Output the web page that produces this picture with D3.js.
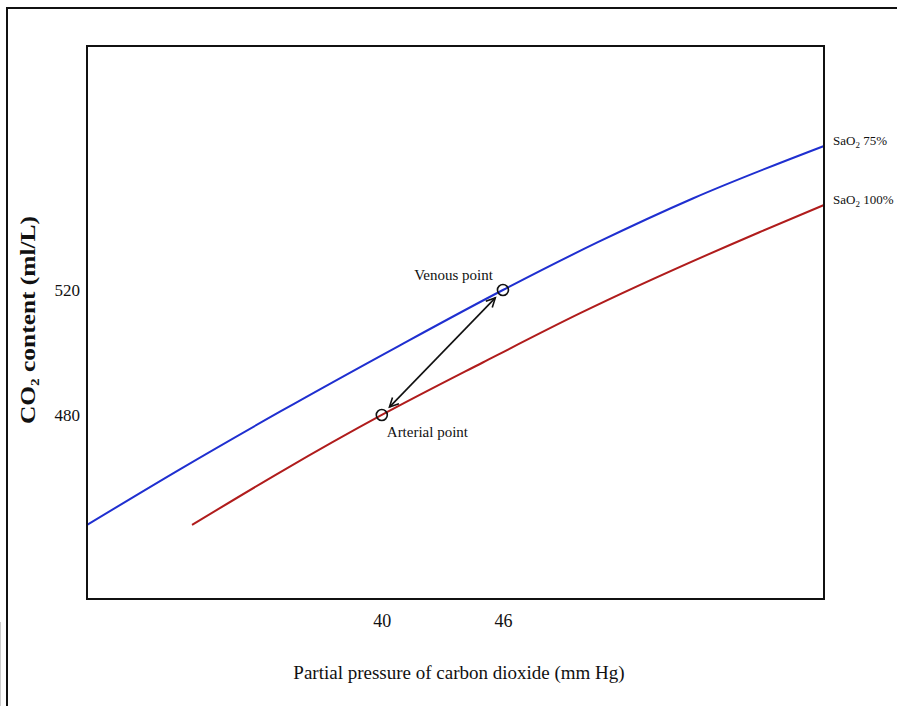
<!DOCTYPE html>
<html>
<head>
<meta charset="utf-8">
<script src="https://cdn.jsdelivr.net/npm/d3@7"></script>
<style>
  body { margin: 0; background: #fff; }
  text { font-family: "Liberation Serif", "DejaVu Serif", serif; fill: #111; }
</style>
</head>
<body>
<svg id="chart" width="897" height="706"></svg>
<script>
"use strict";

// === Data ===
let pco2Ticks = [40, 46];
let contentTicks = [480, 520];

// SaO2 75% curve
let sat75X = [25.4, 30.0, 35.0, 40.9, 46, 50.7, 55.4, 61.9];
let sat75Y = [444.8, 462.6, 481.2, 502.3, 520, 535.3, 549.3, 566.1];

// SaO2 100% curve
let sat100X = [30.6, 35.0, 40, 45.0, 49.8, 58.7, 61.9];
let sat100Y = [444.8, 461.8, 480, 496.8, 512.5, 538.5, 547.2];

let pointNames = ["Venous point", "Arterial point"];
let pointX = [46, 40];
let pointY = [520, 480];

// === Layout ===
let svg = d3.select("#chart");
let plotLeft = 87, plotRight = 824, plotTop = 46, plotBottom = 599;

let x = d3.scaleLinear().domain([25.4, 61.9]).range([plotLeft, plotRight]);
let y = d3.scaleLinear().domain([421.1, 598.1]).range([plotBottom, plotTop]);

// outer frame of the figure
svg.append("rect")
  .attr("x", 7).attr("y", 8)
  .attr("width", 900).attr("height", 710)
  .attr("fill", "none")
  .attr("stroke", "#111")
  .attr("stroke-width", 2);

svg.append("line")
  .attr("x1", 0.5).attr("x2", 0.5)
  .attr("y1", 622).attr("y2", 706)
  .attr("stroke", "#ccc");

// === Curves ===
let line = d3.line()
  .x(d => x(d[0]))
  .y(d => y(d[1]))
  .curve(d3.curveMonotoneX);

let series = [
  { xs: sat75X, ys: sat75Y, color: "#1f2fd0" },
  { xs: sat100X, ys: sat100Y, color: "#b01c1c" }
];

series.forEach(s => {
  svg.append("path")
    .datum(s.xs.map((v, i) => [v, s.ys[i]]))
    .attr("d", line)
    .attr("fill", "none")
    .attr("stroke", s.color)
    .attr("stroke-width", 2);
});

// plot box
svg.append("rect")
  .attr("x", plotLeft).attr("y", plotTop)
  .attr("width", plotRight - plotLeft).attr("height", plotBottom - plotTop)
  .attr("fill", "none")
  .attr("stroke", "#111")
  .attr("stroke-width", 2);

// === Axes (labels only, no tick marks) ===
let xAxis = svg.append("g")
  .attr("transform", `translate(0,${plotBottom})`)
  .call(d3.axisBottom(x).tickValues(pco2Ticks).tickSize(0).tickPadding(15));
xAxis.select(".domain").remove();
xAxis.selectAll("text")
  .style("font-family", "Liberation Serif, serif")
  .style("font-size", "18px")
  .attr("fill", "#111");

let yAxis = svg.append("g")
  .attr("transform", `translate(${plotLeft},0)`)
  .call(d3.axisLeft(y).tickValues(contentTicks).tickSize(0).tickPadding(7));
yAxis.select(".domain").remove();
yAxis.selectAll("text")
  .style("font-family", "Liberation Serif, serif")
  .style("font-size", "17px")
  .attr("fill", "#111");

// axis titles
svg.append("text")
  .attr("x", 459)
  .attr("y", 679)
  .attr("text-anchor", "middle")
  .style("font-size", "19px")
  .text("Partial pressure of carbon dioxide (mm Hg)");

let yTitle = svg.append("text")
  .attr("transform", "translate(35,320) rotate(-90)")
  .attr("text-anchor", "middle")
  .attr("textLength", 208)
  .attr("lengthAdjust", "spacingAndGlyphs")
  .style("font-size", "20px")
  .style("font-weight", "bold");
yTitle.append("tspan").text("CO");
yTitle.append("tspan").attr("dy", 4).style("font-size", "12px").text("2");
yTitle.append("tspan").attr("dy", -4).text(" content (ml/L)");

// curve labels at the right edge
let curveLabels = [
  { pct: "75%", yv: sat75Y[sat75Y.length - 1] },
  { pct: "100%", yv: sat100Y[sat100Y.length - 1] }
];
curveLabels.forEach(c => {
  let t = svg.append("text")
    .attr("x", plotRight + 9)
    .attr("y", y(c.yv) - 1)
    .style("font-size", "13px");
  t.append("tspan").text("SaO");
  t.append("tspan").attr("dy", 3).style("font-size", "9px").text("2");
  t.append("tspan").attr("dy", -3).text(" " + c.pct);
});

// === Double-headed arrow between the points ===
let defs = svg.append("defs");
defs.append("marker")
  .attr("id", "head")
  .attr("viewBox", "-10 -6 12 12")
  .attr("refX", 0).attr("refY", 0)
  .attr("markerWidth", 12).attr("markerHeight", 12)
  .attr("markerUnits", "userSpaceOnUse")
  .attr("orient", "auto-start-reverse")
  .append("path")
  .attr("d", "M-9,-4.5 L0,0 L-9,4.5")
  .attr("fill", "none")
  .attr("stroke", "#111")
  .attr("stroke-width", 1.6);

let ax = x(pointX[1]), ay = y(pointY[1]);
let vx = x(pointX[0]), vy = y(pointY[0]);
let dx = vx - ax, dy = vy - ay, len = Math.hypot(dx, dy);
let gap = 11;
svg.append("line")
  .attr("x1", ax + dx / len * gap).attr("y1", ay + dy / len * gap)
  .attr("x2", vx - dx / len * gap).attr("y2", vy - dy / len * gap)
  .attr("stroke", "#111")
  .attr("stroke-width", 1.6)
  .attr("marker-start", "url(#head)")
  .attr("marker-end", "url(#head)");

// === Points ===
pointNames.forEach((name, i) => {
  let px = x(pointX[i]), py = y(pointY[i]);
  svg.append("circle")
    .attr("cx", px).attr("cy", py)
    .attr("r", 5.5)
    .attr("fill", "none")
    .attr("stroke", "#111")
    .attr("stroke-width", 1.6);
  let venous = i === 0;
  svg.append("text")
    .attr("x", venous ? px - 10 : px + 5)
    .attr("y", venous ? py - 10 : py + 22)
    .attr("text-anchor", venous ? "end" : "start")
    .style("font-size", "15px")
    .text(name);
});
</script>
</body>
</html>
